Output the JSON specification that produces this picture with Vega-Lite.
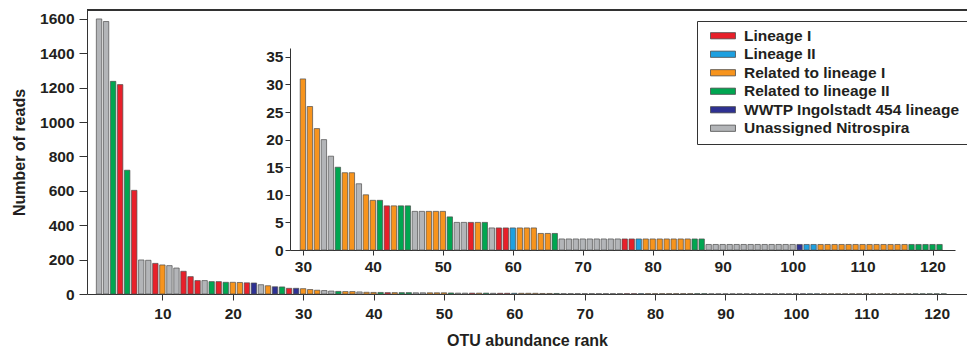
{
  "$schema": "https://vega.github.io/schema/vega-lite/v6.json",
  "autosize": "none",
  "width": 880,
  "height": 284,
  "padding": {"left": 87, "top": 10, "right": 0, "bottom": 54},
  "background": "white",
  "config": {
    "view": {"stroke": null},
    "font": "Liberation Sans",
    "axis": {
      "grid": false,
      "labelFont": "Liberation Sans",
      "labelFontWeight": "bold",
      "labelFontSize": 15.5,
      "labelColor": "#231f20",
      "labelOverlap": false,
      "format": "d",
      "titleFont": "Liberation Sans",
      "titleFontWeight": "bold",
      "titleFontSize": 16,
      "titleColor": "#231f20",
      "domainColor": "#333333",
      "tickColor": "#333333",
      "tickSize": 5,
      "labelPadding": 4
    }
  },
  "datasets": {
    "bars": [
      {"rank": 1, "reads": 1600, "lineage": "Unassigned Nitrospira"},
      {"rank": 2, "reads": 1585, "lineage": "Unassigned Nitrospira"},
      {"rank": 3, "reads": 1237, "lineage": "Related to lineage II"},
      {"rank": 4, "reads": 1218, "lineage": "Lineage I"},
      {"rank": 5, "reads": 720, "lineage": "Related to lineage II"},
      {"rank": 6, "reads": 603, "lineage": "Lineage I"},
      {"rank": 7, "reads": 198, "lineage": "Unassigned Nitrospira"},
      {"rank": 8, "reads": 196, "lineage": "Unassigned Nitrospira"},
      {"rank": 9, "reads": 178, "lineage": "Lineage I"},
      {"rank": 10, "reads": 169, "lineage": "Related to lineage I"},
      {"rank": 11, "reads": 165, "lineage": "Unassigned Nitrospira"},
      {"rank": 12, "reads": 151, "lineage": "Unassigned Nitrospira"},
      {"rank": 13, "reads": 132, "lineage": "Lineage I"},
      {"rank": 14, "reads": 101, "lineage": "Lineage I"},
      {"rank": 15, "reads": 78, "lineage": "Lineage I"},
      {"rank": 16, "reads": 78, "lineage": "Unassigned Nitrospira"},
      {"rank": 17, "reads": 72, "lineage": "Related to lineage II"},
      {"rank": 18, "reads": 72, "lineage": "Lineage I"},
      {"rank": 19, "reads": 68, "lineage": "Related to lineage II"},
      {"rank": 20, "reads": 68, "lineage": "Related to lineage I"},
      {"rank": 21, "reads": 67, "lineage": "Related to lineage I"},
      {"rank": 22, "reads": 65, "lineage": "Lineage I"},
      {"rank": 23, "reads": 64, "lineage": "WWTP Ingolstadt 454 lineage"},
      {"rank": 24, "reads": 54, "lineage": "Unassigned Nitrospira"},
      {"rank": 25, "reads": 48, "lineage": "Related to lineage I"},
      {"rank": 26, "reads": 42, "lineage": "WWTP Ingolstadt 454 lineage"},
      {"rank": 27, "reads": 41, "lineage": "Related to lineage II"},
      {"rank": 28, "reads": 33, "lineage": "Lineage I"},
      {"rank": 29, "reads": 33, "lineage": "WWTP Ingolstadt 454 lineage"},
      {"rank": 30, "reads": 31, "lineage": "Related to lineage I"},
      {"rank": 31, "reads": 26, "lineage": "Related to lineage I"},
      {"rank": 32, "reads": 22, "lineage": "Related to lineage I"},
      {"rank": 33, "reads": 20, "lineage": "Unassigned Nitrospira"},
      {"rank": 34, "reads": 17, "lineage": "Unassigned Nitrospira"},
      {"rank": 35, "reads": 15, "lineage": "Related to lineage II"},
      {"rank": 36, "reads": 14, "lineage": "Related to lineage I"},
      {"rank": 37, "reads": 14, "lineage": "Related to lineage I"},
      {"rank": 38, "reads": 12, "lineage": "Unassigned Nitrospira"},
      {"rank": 39, "reads": 10, "lineage": "Related to lineage I"},
      {"rank": 40, "reads": 9, "lineage": "Related to lineage I"},
      {"rank": 41, "reads": 9, "lineage": "Related to lineage II"},
      {"rank": 42, "reads": 8, "lineage": "Lineage I"},
      {"rank": 43, "reads": 8, "lineage": "Related to lineage I"},
      {"rank": 44, "reads": 8, "lineage": "Related to lineage II"},
      {"rank": 45, "reads": 8, "lineage": "Related to lineage II"},
      {"rank": 46, "reads": 7, "lineage": "Unassigned Nitrospira"},
      {"rank": 47, "reads": 7, "lineage": "Unassigned Nitrospira"},
      {"rank": 48, "reads": 7, "lineage": "Related to lineage I"},
      {"rank": 49, "reads": 7, "lineage": "Related to lineage I"},
      {"rank": 50, "reads": 7, "lineage": "Related to lineage I"},
      {"rank": 51, "reads": 6, "lineage": "Related to lineage II"},
      {"rank": 52, "reads": 5, "lineage": "Unassigned Nitrospira"},
      {"rank": 53, "reads": 5, "lineage": "Unassigned Nitrospira"},
      {"rank": 54, "reads": 5, "lineage": "Lineage I"},
      {"rank": 55, "reads": 5, "lineage": "Related to lineage I"},
      {"rank": 56, "reads": 5, "lineage": "Related to lineage II"},
      {"rank": 57, "reads": 4, "lineage": "Unassigned Nitrospira"},
      {"rank": 58, "reads": 4, "lineage": "Lineage I"},
      {"rank": 59, "reads": 4, "lineage": "Lineage I"},
      {"rank": 60, "reads": 4, "lineage": "Lineage II"},
      {"rank": 61, "reads": 4, "lineage": "Related to lineage I"},
      {"rank": 62, "reads": 4, "lineage": "Related to lineage I"},
      {"rank": 63, "reads": 4, "lineage": "Related to lineage I"},
      {"rank": 64, "reads": 3, "lineage": "Related to lineage I"},
      {"rank": 65, "reads": 3, "lineage": "Related to lineage I"},
      {"rank": 66, "reads": 3, "lineage": "Related to lineage II"},
      {"rank": 67, "reads": 2, "lineage": "Unassigned Nitrospira"},
      {"rank": 68, "reads": 2, "lineage": "Unassigned Nitrospira"},
      {"rank": 69, "reads": 2, "lineage": "Unassigned Nitrospira"},
      {"rank": 70, "reads": 2, "lineage": "Unassigned Nitrospira"},
      {"rank": 71, "reads": 2, "lineage": "Unassigned Nitrospira"},
      {"rank": 72, "reads": 2, "lineage": "Unassigned Nitrospira"},
      {"rank": 73, "reads": 2, "lineage": "Unassigned Nitrospira"},
      {"rank": 74, "reads": 2, "lineage": "Unassigned Nitrospira"},
      {"rank": 75, "reads": 2, "lineage": "Unassigned Nitrospira"},
      {"rank": 76, "reads": 2, "lineage": "Lineage I"},
      {"rank": 77, "reads": 2, "lineage": "Lineage I"},
      {"rank": 78, "reads": 2, "lineage": "Lineage II"},
      {"rank": 79, "reads": 2, "lineage": "Related to lineage I"},
      {"rank": 80, "reads": 2, "lineage": "Related to lineage I"},
      {"rank": 81, "reads": 2, "lineage": "Related to lineage I"},
      {"rank": 82, "reads": 2, "lineage": "Related to lineage I"},
      {"rank": 83, "reads": 2, "lineage": "Related to lineage I"},
      {"rank": 84, "reads": 2, "lineage": "Related to lineage I"},
      {"rank": 85, "reads": 2, "lineage": "Related to lineage I"},
      {"rank": 86, "reads": 2, "lineage": "Related to lineage II"},
      {"rank": 87, "reads": 2, "lineage": "Related to lineage II"},
      {"rank": 88, "reads": 1, "lineage": "Unassigned Nitrospira"},
      {"rank": 89, "reads": 1, "lineage": "Unassigned Nitrospira"},
      {"rank": 90, "reads": 1, "lineage": "Unassigned Nitrospira"},
      {"rank": 91, "reads": 1, "lineage": "Unassigned Nitrospira"},
      {"rank": 92, "reads": 1, "lineage": "Unassigned Nitrospira"},
      {"rank": 93, "reads": 1, "lineage": "Unassigned Nitrospira"},
      {"rank": 94, "reads": 1, "lineage": "Unassigned Nitrospira"},
      {"rank": 95, "reads": 1, "lineage": "Unassigned Nitrospira"},
      {"rank": 96, "reads": 1, "lineage": "Unassigned Nitrospira"},
      {"rank": 97, "reads": 1, "lineage": "Unassigned Nitrospira"},
      {"rank": 98, "reads": 1, "lineage": "Unassigned Nitrospira"},
      {"rank": 99, "reads": 1, "lineage": "Unassigned Nitrospira"},
      {"rank": 100, "reads": 1, "lineage": "Unassigned Nitrospira"},
      {"rank": 101, "reads": 1, "lineage": "WWTP Ingolstadt 454 lineage"},
      {"rank": 102, "reads": 1, "lineage": "Lineage II"},
      {"rank": 103, "reads": 1, "lineage": "Lineage II"},
      {"rank": 104, "reads": 1, "lineage": "Related to lineage I"},
      {"rank": 105, "reads": 1, "lineage": "Related to lineage I"},
      {"rank": 106, "reads": 1, "lineage": "Related to lineage I"},
      {"rank": 107, "reads": 1, "lineage": "Related to lineage I"},
      {"rank": 108, "reads": 1, "lineage": "Related to lineage I"},
      {"rank": 109, "reads": 1, "lineage": "Related to lineage I"},
      {"rank": 110, "reads": 1, "lineage": "Related to lineage I"},
      {"rank": 111, "reads": 1, "lineage": "Related to lineage I"},
      {"rank": 112, "reads": 1, "lineage": "Related to lineage I"},
      {"rank": 113, "reads": 1, "lineage": "Related to lineage I"},
      {"rank": 114, "reads": 1, "lineage": "Related to lineage I"},
      {"rank": 115, "reads": 1, "lineage": "Related to lineage I"},
      {"rank": 116, "reads": 1, "lineage": "Related to lineage I"},
      {"rank": 117, "reads": 1, "lineage": "Related to lineage II"},
      {"rank": 118, "reads": 1, "lineage": "Related to lineage II"},
      {"rank": 119, "reads": 1, "lineage": "Related to lineage II"},
      {"rank": 120, "reads": 1, "lineage": "Related to lineage II"},
      {"rank": 121, "reads": 1, "lineage": "Related to lineage II"}
    ]
  },
  "data": {"name": "bars"},
  "layer": [
    {
      "mark": {"type": "bar", "width": 5.4, "stroke": "#4d4d4d", "strokeWidth": 0.7},
      "encoding": {
        "x": {
          "field": "rank", "type": "quantitative",
          "scale": {"domain": [0, 123.6], "nice": false, "zero": false},
          "axis": {"values": [10, 20, 30, 40, 50, 60, 70, 80, 90, 100, 110, 120], "title": "OTU abundance rank", "titlePadding": 11, "tickSize": 6, "labelPadding": 6, "labelOverlap": false}
        },
        "y": {
          "field": "reads", "type": "quantitative",
          "scale": {"domain": [0, 1652], "nice": false},
          "axis": {"values": [0, 200, 400, 600, 800, 1000, 1200, 1400, 1600], "title": "Number of reads", "titlePadding": 12, "tickSize": 8, "labelPadding": 5, "labelOverlap": false}
        },
        "color": {
          "field": "lineage", "type": "nominal",
          "scale": {
            "domain": ["Lineage I", "Lineage II", "Related to lineage I", "Related to lineage II", "WWTP Ingolstadt 454 lineage", "Unassigned Nitrospira"],
            "range": ["#e8202a", "#1ea0e0", "#f7941d", "#00a651", "#2e3192", "#b3b5b8"]
          },
          "legend": {
            "orient": "none", "legendX": 610, "legendY": 11, "title": null,
            "fillColor": "white", "strokeColor": "#333333", "padding": 7,
            "symbolType": "M-0.2,-0.5H3.8V0.5H-0.2Z", "symbolSize": 156,
            "symbolStrokeColor": "#444444", "symbolStrokeWidth": 0.8, "symbolOpacity": 1,
            "labelFont": "Liberation Sans", "labelFontWeight": "bold", "labelFontSize": 15.5,
            "labelColor": "#231f20", "rowPadding": 1.5, "labelOffset": 24.5, "labelLimit": 400
          }
        }
      }
    },
    {
      "transform": [{"filter": "datum.rank >= 30"}],
      "mark": {"type": "bar", "width": 5.4, "stroke": "#4d4d4d", "strokeWidth": 0.7},
      "encoding": {
        "x": {
          "field": "rank", "type": "quantitative",
          "scale": {"domain": [28.87, 122.5], "range": [203, 868], "nice": false, "zero": false},
          "axis": {"orient": "bottom", "offset": -44, "values": [30, 40, 50, 60, 70, 80, 90, 100, 110, 120], "title": null, "labelOverlap": false}
        },
        "y": {
          "field": "reads", "type": "quantitative",
          "scale": {"domain": [0, 36.6], "range": [240, 38], "nice": false},
          "axis": {"orient": "left", "offset": -203, "values": [0, 5, 10, 15, 20, 25, 30, 35], "title": null, "tickSize": 5, "labelPadding": 2, "labelOverlap": false}
        },
        "color": {"field": "lineage", "type": "nominal"}
      }
    },
    {
      "mark": {"type": "rule", "color": "#333333", "strokeWidth": 1},
      "encoding": {
        "x": {"datum": 0, "type": "quantitative", "scale": {"domain": [0, 1], "range": [0, 880]}, "axis": null},
        "x2": {"datum": 1},
        "y": {"datum": 1, "type": "quantitative", "scale": {"domain": [0, 1], "range": [284, 0]}, "axis": null}
      }
    }
  ],
  "resolve": {"scale": {"x": "independent", "y": "independent"}, "axis": {"x": "independent", "y": "independent"}}
}
